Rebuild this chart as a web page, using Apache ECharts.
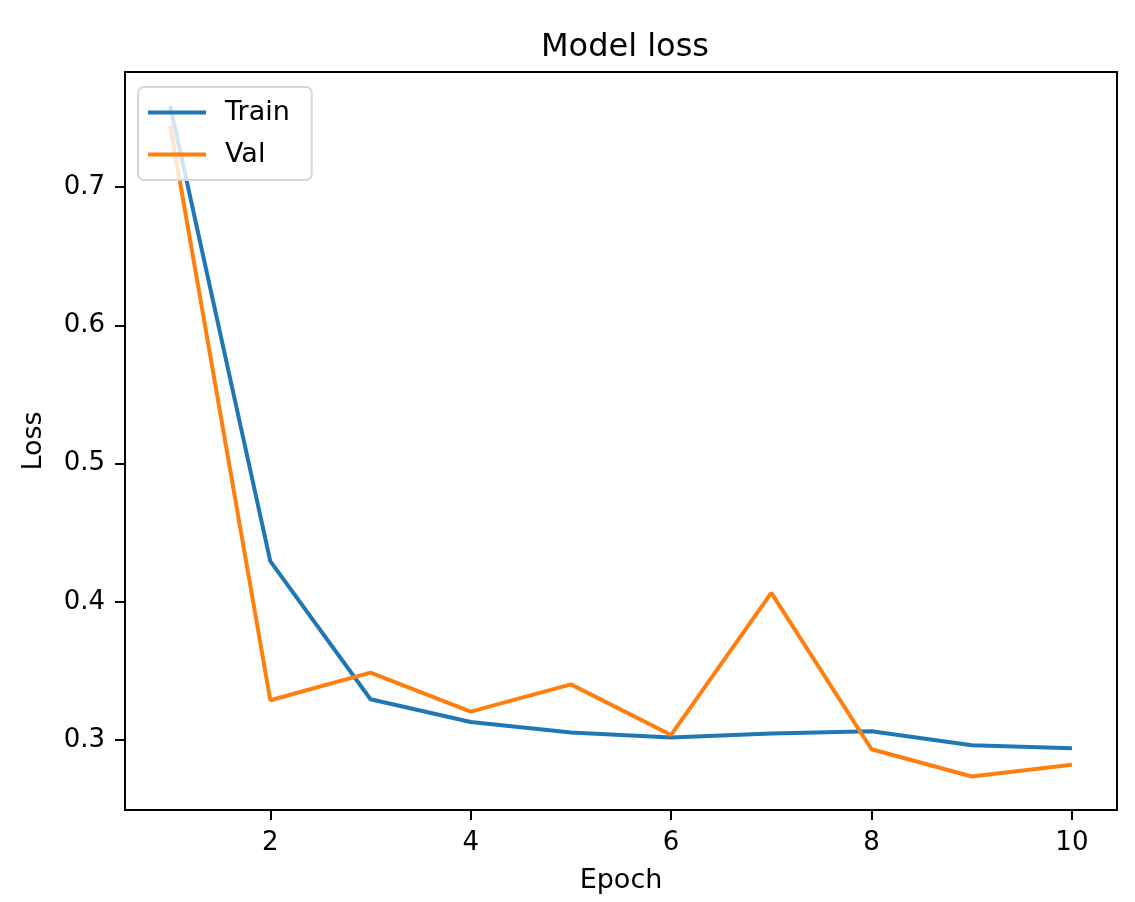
<!DOCTYPE html>
<html>
<head>
<meta charset="utf-8">
<script src="https://cdn.jsdelivr.net/npm/echarts@6/dist/echarts.min.js"></script>
<style>
  html, body { margin: 0; padding: 0; background: #fff; }
  #chart { width: 1135px; height: 902px; }
</style>
</head>
<body>
<div id="chart"></div>
<script>
const epochs = [1, 2, 3, 4, 5, 6, 7, 8, 9, 10]
const trainLoss = [0.759, 0.4295, 0.3296, 0.3132, 0.3056, 0.302, 0.3048, 0.3065, 0.2964, 0.2942]
const valLoss = [0.7448, 0.3289, 0.3489, 0.3207, 0.3404, 0.3038, 0.4066, 0.2935, 0.2738, 0.2822]
const xTicks = [2, 4, 6, 8, 10]
const yTicks = [0.3, 0.4, 0.5, 0.6, 0.7]

const font = 'DejaVu Sans'
const chart = echarts.init(document.getElementById('chart'))

// matplotlib-like 5% margins around the data
const yMin = Math.min(...trainLoss, ...valLoss)
const yMax = Math.max(...trainLoss, ...valLoss)
const yPad = (yMax - yMin) * 0.05

const option = {
  animation: false,
  title: {
    text: 'Model loss',
    left: 620,
    top: 27,
    textAlign: 'center',
    textStyle: { fontFamily: font, fontSize: 32, fontWeight: 'normal', color: '#000' }
  },
  legend: {
    data: ['Train', 'Val'],
    orient: 'vertical',
    left: 138,
    top: 87,
    icon: 'rect',
    itemWidth: 58,
    itemHeight: 4,
    itemGap: 15,
    padding: [12, 22, 12, 10],
    backgroundColor: 'rgba(255,255,255,0.8)',
    borderColor: '#d6d6d6',
    borderWidth: 2,
    borderRadius: 6,
    textStyle: { fontFamily: font, fontSize: 27, color: '#000', padding: [0, 0, 0, 14] }
  },
  grid: {
    left: 125,
    right: 18,
    top: 72,
    bottom: 92,
    show: true,
    borderColor: '#000',
    borderWidth: 2
  },
  xAxis: {
    type: 'value',
    min: 0.55,
    max: 10.45,
    name: 'Epoch',
    nameLocation: 'middle',
    nameGap: 57,
    nameTextStyle: { fontFamily: font, fontSize: 27, color: '#000' },
    axisLine: { show: true, lineStyle: { color: '#000', width: 2 } },
    axisTick: { show: true, length: 10, lineStyle: { color: '#000', width: 2 }, customValues: xTicks },
    axisLabel: { fontFamily: font, fontSize: 26, color: '#000', margin: 20, customValues: xTicks },
    splitLine: { show: false }
  },
  yAxis: {
    type: 'value',
    min: yMin - yPad,
    max: yMax + yPad,
    name: 'Loss',
    nameLocation: 'middle',
    nameGap: 78,
    nameTextStyle: { fontFamily: font, fontSize: 27, color: '#000' },
    axisLine: { show: true, lineStyle: { color: '#000', width: 2 } },
    axisTick: { show: true, length: 10, lineStyle: { color: '#000', width: 2 }, customValues: yTicks },
    axisLabel: {
      fontFamily: font, fontSize: 26, color: '#000', margin: 20, customValues: yTicks,
      formatter: v => v.toFixed(1)
    },
    splitLine: { show: false }
  },
  series: [
    {
      name: 'Train',
      type: 'line',
      symbol: 'none',
      lineStyle: { width: 4, color: '#1f77b4' },
      itemStyle: { color: '#1f77b4' },
      data: epochs.map((e, i) => [e, trainLoss[i]])
    },
    {
      name: 'Val',
      type: 'line',
      symbol: 'none',
      lineStyle: { width: 4, color: '#ff7f0e' },
      itemStyle: { color: '#ff7f0e' },
      data: epochs.map((e, i) => [e, valLoss[i]])
    }
  ]
}

chart.setOption(option)
</script>
</body>
</html>
